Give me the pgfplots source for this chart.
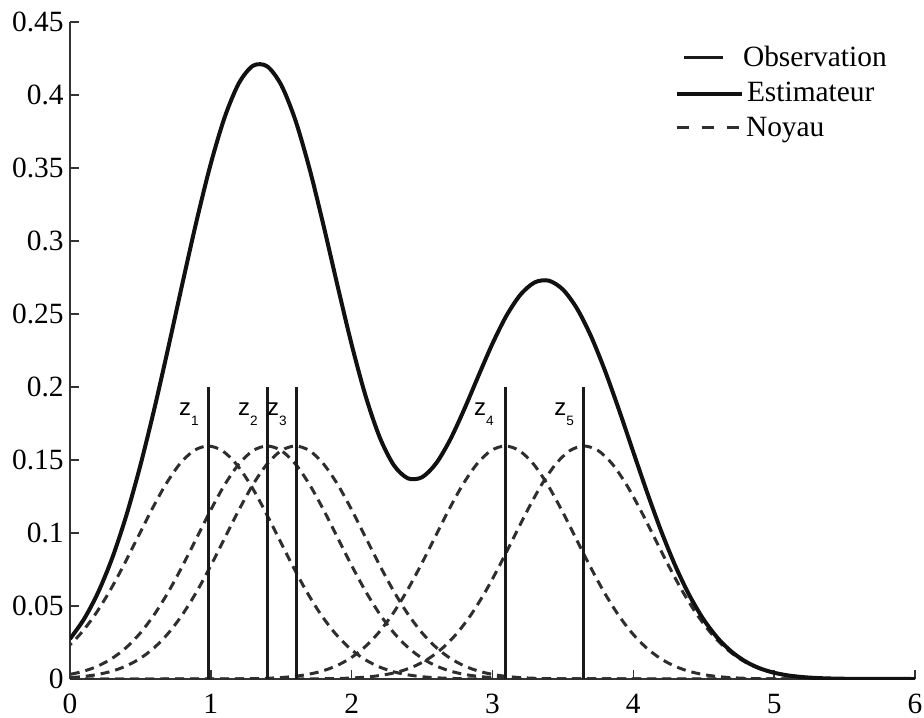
\documentclass[border=0pt]{standalone}
\usepackage{fontspec}
\setmainfont{Liberation Serif}
\newfontfamily\zfont{Liberation Sans}
\usepackage{pgfplots}
\pgfplotsset{compat=1.18}
\definecolor{estc}{HTML}{111111}
\definecolor{obsc}{HTML}{1A1A1A}
\definecolor{kerc}{HTML}{2E2E2E}
\newcommand{\zlab}[1]{{\zfont\fontsize{12}{13}\selectfont z\raisebox{-5pt}{\fontsize{6.8}{7}\selectfont #1}}}
\begin{document}
\begin{tikzpicture}
\path[use as bounding box] (-35pt,-19pt) rectangle (427pt,339.5pt);
\begin{axis}[
  at={(0pt,0pt)}, anchor=south west,
  scale only axis, width=422.5pt, height=328.5pt,
  xmin=0, xmax=6, ymin=0, ymax=0.45,
  axis x line*=bottom, axis y line*=left,
  axis line style={black!80, line width=0.8pt},
  every tick/.style={black!80, line width=0.8pt},
  tick align=inside, major tick length=4.5pt,
  xtick={0,1,2,3,4,5,6},
  ytick={0,0.05,0.1,0.15,0.2,0.25,0.3,0.35,0.4,0.45},
  scaled y ticks=false,
  yticklabel style={/pgf/number format/fixed, /pgf/number format/precision=2, inner sep=0pt, xshift=-3pt},
  xticklabel style={inner sep=0pt, yshift=-7.5pt},
  /pgf/number format/assume math mode=true,
  tick label style={font=\fontsize{14.7}{16}\selectfont},
  legend style={at={(axis description cs:0.716,0.963)}, anchor=north west, draw=none, fill=none,
    inner sep=0pt, outer sep=0pt, font=\fontsize{14.7}{17}\selectfont,
    nodes={inner sep=0pt, text height=10.3pt, text depth=3.7pt},
    row sep=3.5pt, /tikz/every odd column/.append style={column sep=0pt}},
  legend cell align=left,
  clip=true,
]
\addlegendimage{empty legend}
\addlegendentry{\tikz[baseline=-4.8pt]{\path[draw=none] (0pt,0pt) -- (32.5pt,0pt); \draw[obsc, line width=1.5pt] (4.5pt,0pt) -- (24pt,0pt);}\hspace{1.5pt}Observation}
\addlegendimage{empty legend}
\addlegendentry{\tikz[baseline=-3.8pt]{\draw[estc, line width=2pt] (0pt,0pt) -- (32.5pt,0pt);}\hspace{1.5pt}Estimateur}
\addlegendimage{empty legend}
\addlegendentry{\tikz[baseline=-4.8pt]{\draw[kerc, line width=1.5pt, dash pattern=on 6pt off 6.5pt] (0pt,0pt) -- (32.5pt,0pt);}\hspace{1.5pt}Noyau}

% kernels
\addplot[kerc, line width=1.5pt, dash pattern=on 4.5pt off 3pt, smooth, forget plot] coordinates {
(-0.12,0.01419) (-0.02,0.02160) (0.08,0.03158) (0.18,0.04438) (0.28,0.05990) (0.38,0.07769) (0.48,0.09680) (0.58,0.11589) (0.68,0.13331) (0.78,0.14733) (0.88,0.15644) (0.98,0.15960) (1.08,0.15644) (1.18,0.14733) (1.28,0.13331) (1.38,0.11589) (1.48,0.09680) (1.58,0.07769) (1.68,0.05990) (1.78,0.04438) (1.88,0.03158) (1.98,0.02160) (2.08,0.01419) (2.18,0.00896) (2.28,0.00543) (2.38,0.00317) (2.48,0.00177) (2.58,0.00095) (2.68,0.00049) (2.78,0.00024) (2.88,0.00012) (2.98,0.00005) (3.5,0) (6,0)};
\addplot[kerc, line width=1.5pt, dash pattern=on 4.5pt off 3pt, smooth, forget plot] coordinates {
(-0.10,0.00177) (0.00,0.00317) (0.10,0.00543) (0.20,0.00896) (0.30,0.01419) (0.40,0.02160) (0.50,0.03158) (0.60,0.04438) (0.70,0.05990) (0.80,0.07769) (0.90,0.09680) (1.00,0.11589) (1.10,0.13331) (1.20,0.14733) (1.30,0.15644) (1.40,0.15960) (1.50,0.15644) (1.60,0.14733) (1.70,0.13331) (1.80,0.11589) (1.90,0.09680) (2.00,0.07769) (2.10,0.05990) (2.20,0.04438) (2.30,0.03158) (2.40,0.02160) (2.50,0.01419) (2.60,0.00896) (2.70,0.00543) (2.80,0.00317) (2.90,0.00177) (3.00,0.00095) (3.10,0.00049) (3.20,0.00024) (3.30,0.00012) (3.40,0.00005) (4.0,0) (6,0)};
\addplot[kerc, line width=1.5pt, dash pattern=on 4.5pt off 3pt, smooth, forget plot] coordinates {
(-0.10,0.00049) (0.00,0.00095) (0.10,0.00177) (0.20,0.00317) (0.30,0.00543) (0.40,0.00896) (0.50,0.01419) (0.60,0.02160) (0.70,0.03158) (0.80,0.04438) (0.90,0.05990) (1.00,0.07769) (1.10,0.09680) (1.20,0.11589) (1.30,0.13331) (1.40,0.14733) (1.50,0.15644) (1.60,0.15960) (1.70,0.15644) (1.80,0.14733) (1.90,0.13331) (2.00,0.11589) (2.10,0.09680) (2.20,0.07769) (2.30,0.05990) (2.40,0.04438) (2.50,0.03158) (2.60,0.02160) (2.70,0.01419) (2.80,0.00896) (2.90,0.00543) (3.00,0.00317) (3.10,0.00177) (3.20,0.00095) (3.30,0.00049) (3.40,0.00024) (3.50,0.00012) (3.60,0.00005) (4.2,0) (6,0)};
\addplot[kerc, line width=1.5pt, dash pattern=on 4.5pt off 3pt, smooth, forget plot] coordinates {
(0,0) (0.6,0) (1.09,0.00005) (1.19,0.00012) (1.29,0.00024) (1.39,0.00049) (1.49,0.00095) (1.59,0.00177) (1.69,0.00317) (1.79,0.00543) (1.89,0.00896) (1.99,0.01419) (2.09,0.02160) (2.19,0.03158) (2.29,0.04438) (2.39,0.05990) (2.49,0.07769) (2.59,0.09680) (2.69,0.11589) (2.79,0.13331) (2.89,0.14733) (2.99,0.15644) (3.09,0.15960) (3.19,0.15644) (3.29,0.14733) (3.39,0.13331) (3.49,0.11589) (3.59,0.09680) (3.69,0.07769) (3.79,0.05990) (3.89,0.04438) (3.99,0.03158) (4.09,0.02160) (4.19,0.01419) (4.29,0.00896) (4.39,0.00543) (4.49,0.00317) (4.59,0.00177) (4.69,0.00095) (4.79,0.00049) (4.89,0.00024) (4.99,0.00012) (5.09,0.00005) (5.6,0) (6,0)};
\addplot[kerc, line width=1.5pt, dash pattern=on 4.5pt off 3pt, smooth, forget plot] coordinates {
(0,0) (1.1,0) (1.65,0.00005) (1.75,0.00012) (1.85,0.00024) (1.95,0.00049) (2.05,0.00095) (2.15,0.00177) (2.25,0.00317) (2.35,0.00543) (2.45,0.00896) (2.55,0.01419) (2.65,0.02160) (2.75,0.03158) (2.85,0.04438) (2.95,0.05990) (3.05,0.07769) (3.15,0.09680) (3.25,0.11589) (3.35,0.13331) (3.45,0.14733) (3.55,0.15644) (3.65,0.15960) (3.75,0.15644) (3.85,0.14733) (3.95,0.13331) (4.05,0.11589) (4.15,0.09680) (4.25,0.07769) (4.35,0.05990) (4.45,0.04438) (4.55,0.03158) (4.65,0.02160) (4.75,0.01419) (4.85,0.00896) (4.95,0.00543) (5.05,0.00317) (5.15,0.00177) (5.25,0.00095) (5.35,0.00049) (5.45,0.00024) (5.55,0.00012) (5.65,0.00005) (6,0)};

% estimator
\addplot[estc, line width=2pt, smooth, forget plot] coordinates {
(0,0.02750) (0.1,0.04112) (0.2,0.05940) (0.3,0.08292) (0.4,0.11200) (0.5,0.14645) (0.6,0.18555) (0.7,0.22792) (0.8,0.27166) (0.9,0.31427) (1.0,0.35308) (1.1,0.38524) (1.2,0.40823) (1.3,0.42005) (1.4,0.41962) (1.5,0.40683) (1.6,0.38284) (1.7,0.34977) (1.8,0.31070) (1.9,0.26922) (2.0,0.22902) (2.1,0.19348) (2.2,0.16532) (2.3,0.14635) (2.4,0.13741) (2.5,0.13823) (2.6,0.14774) (2.7,0.16404) (2.8,0.18486) (2.9,0.20759) (3.0,0.22976) (3.1,0.24900) (3.2,0.26342) (3.3,0.27166) (3.4,0.27283) (3.5,0.26675) (3.6,0.25371) (3.7,0.23465) (3.8,0.21081) (3.9,0.18382) (4.0,0.15538) (4.1,0.12720) (4.2,0.10073) (4.3,0.07710) (4.4,0.05697) (4.5,0.04062) (4.6,0.02792) (4.7,0.01850) (4.8,0.01179) (4.9,0.00724) (5.0,0.00428) (5.1,0.00243) (5.2,0.00133) (5.3,0.00069) (5.4,0.00035) (5.5,0.00017) (5.6,0.00008) (5.7,0.00004) (5.8,0.00002) (5.9,0.00001) (6.0,0)};

% observations
\addplot[obsc, line width=1.5pt, forget plot] coordinates {(0.98,0) (0.98,0.2)};
\addplot[obsc, line width=1.5pt, forget plot] coordinates {(1.40,0) (1.40,0.2)};
\addplot[obsc, line width=1.5pt, forget plot] coordinates {(1.605,0) (1.605,0.2)};
\addplot[obsc, line width=1.5pt, forget plot] coordinates {(3.09,0) (3.09,0.2)};
\addplot[obsc, line width=1.5pt, forget plot] coordinates {(3.645,0) (3.645,0.2)};

\node[anchor=base east, inner sep=0pt, xshift=-4.5pt] at (axis cs:0.98,0.1808) {\zlab{1}};
\node[anchor=base east, inner sep=0pt, xshift=-4.5pt] at (axis cs:1.40,0.1808) {\zlab{2}};
\node[anchor=base east, inner sep=0pt, xshift=-4.5pt] at (axis cs:1.605,0.1808) {\zlab{3}};
\node[anchor=base east, inner sep=0pt, xshift=-5.5pt] at (axis cs:3.09,0.1808) {\zlab{4}};
\node[anchor=base east, inner sep=0pt, xshift=-4.5pt] at (axis cs:3.645,0.1808) {\zlab{5}};
\end{axis}
\end{tikzpicture}
\end{document}
